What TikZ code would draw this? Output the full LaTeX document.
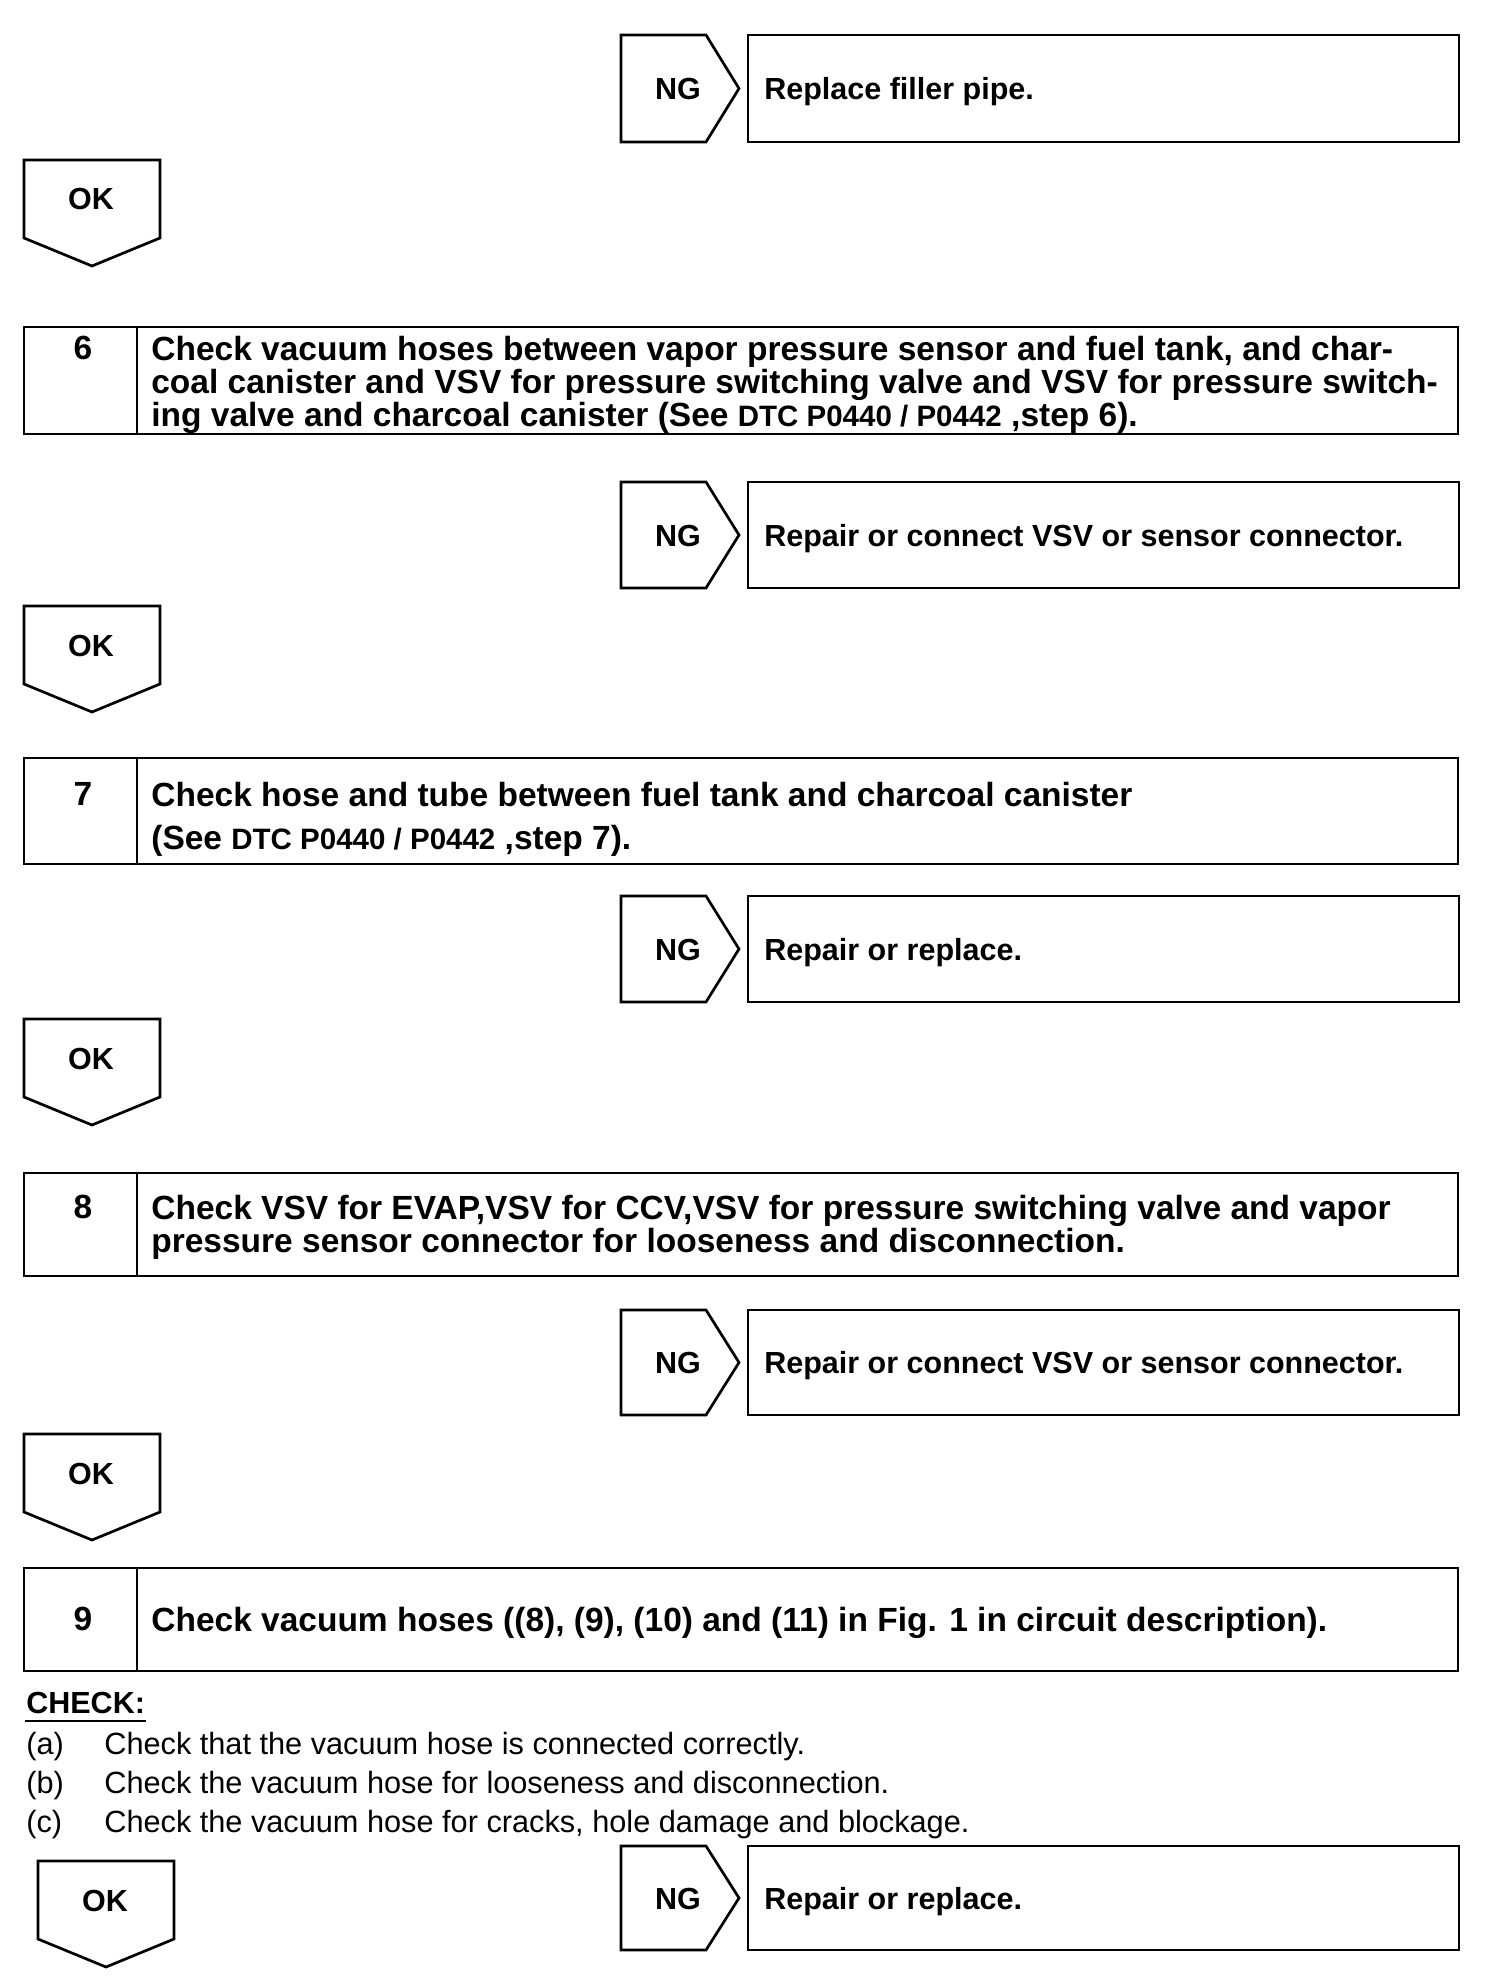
\documentclass[tikz,border=0pt]{standalone}
\usepackage{fontspec}
\setmainfont{Liberation Sans}
\usepackage{tikz}

\begin{document}
\begin{tikzpicture}[x=1pt,y=-1pt,line width=2.7pt,
    steptext/.style={font=\bfseries\fontsize{33.5}{33}\selectfont,align=left,anchor=north west,inner sep=0pt},
    stepnum/.style={font=\bfseries\fontsize{33.5}{33}\selectfont,anchor=base,inner sep=0pt},
    ngtext/.style={font=\bfseries\fontsize{30.5}{32}\selectfont,inner sep=0pt},
    itemtext/.style={font=\fontsize{30.7}{32}\selectfont,anchor=base west,inner sep=0pt}]
  \useasboundingbox (0,0) rectangle (1504,1988);
  \newcommand{\dtc}[1]{{\fontsize{29.5}{33}\selectfont #1}}
  % NG branches
  \foreach \t/\b/\msg [count=\i] in {35/142/Replace filler pipe.,
      482/588/Repair or connect VSV or sensor connector.,
      896/1002/Repair or replace.,
      1310/1415/Repair or connect VSV or sensor connector.,
      1846/1950/Repair or replace.}
  {
    \draw (621,\t) -- (706,\t) -- (739,{(\t+\b)/2}) -- (706,\b) -- (621,\b) -- cycle;
    \draw (748,\t) rectangle (1459,\b);
    \node[ngtext,anchor=base] (ng\i) at (678,{(\t+\b)/2+11}) {NG};
    \node[ngtext,anchor=base west] (fix\i) at (763,{(\t+\b)/2+11}) {\msg};
  }
  % OK branches
  \foreach \x/\t [count=\i] in {24/160,24/606,24/1019,24/1434,38/1861}
  {
    \draw (\x,\t) -- (\x+136,\t) -- (\x+136,\t+78) -- (\x+68,\t+106) -- (\x,\t+78) -- cycle;
    \node[ngtext,anchor=base] (ok\i) at (\x+67,\t+50) {OK};
  }
  % Step 6
  \draw (24,327) rectangle (1458,434);
  \draw (137,327) -- (137,434);
  \node[stepnum] (n6) at (83,359) {6};
  \node[steptext] (s6) at (150,334.5) {Check vacuum hoses between vapor pressure sensor and fuel tank, and char-\\
    coal canister and VSV for pressure switching valve and VSV for pressure switch-\\
    ing valve and charcoal canister (See \dtc{DTC P0440 / P0442} ,step 6).};
  % Step 7
  \draw (24,758) rectangle (1458,864);
  \draw (137,758) -- (137,864);
  \node[stepnum] (n7) at (83,805) {7};
  \node[steptext,font=\bfseries\fontsize{33.5}{43}\selectfont] (s7) at (150,780.5) {Check hose and tube between fuel tank and charcoal canister\\
    (See \dtc{DTC P0440 / P0442} ,step 7).};
  % Step 8
  \draw (24,1173) rectangle (1458,1276);
  \draw (137,1173) -- (137,1276);
  \node[stepnum] (n8) at (83,1218) {8};
  \node[steptext] (s8) at (150,1193.5) {Check VSV for EVAP,VSV for CCV,VSV for pressure switching valve and vapor\\
    pressure sensor connector for looseness and disconnection.};
  % Step 9
  \draw (24,1568) rectangle (1458,1671);
  \draw (137,1568) -- (137,1671);
  \node[stepnum] (n9) at (83,1630) {9};
  \node[steptext] (s9) at (150,1605.5) {Check vacuum hoses ((8), (9), (10) and (11) in Fig. 1 in circuit description).};
  % Check list
  \node[itemtext,font=\bfseries\fontsize{30.5}{32}\selectfont] (check) at (25,1713) {CHECK:};
  \draw[line width=2pt] ([yshift=-8pt]check.base west) -- ([yshift=-8pt]check.base east);
  \foreach \l/\txt [count=\i] in {a/Check that the vacuum hose is connected correctly.,
      b/Check the vacuum hose for looseness and disconnection.,
      c/{Check the vacuum hose for cracks, hole damage and blockage.}}
  {
    \node[itemtext] (lbl\i) at (25,1715+39*\i) {(\l)};
    \node[itemtext] (item\i) at (103,1715+39*\i) {\txt};
  }
\end{tikzpicture}
\end{document}
